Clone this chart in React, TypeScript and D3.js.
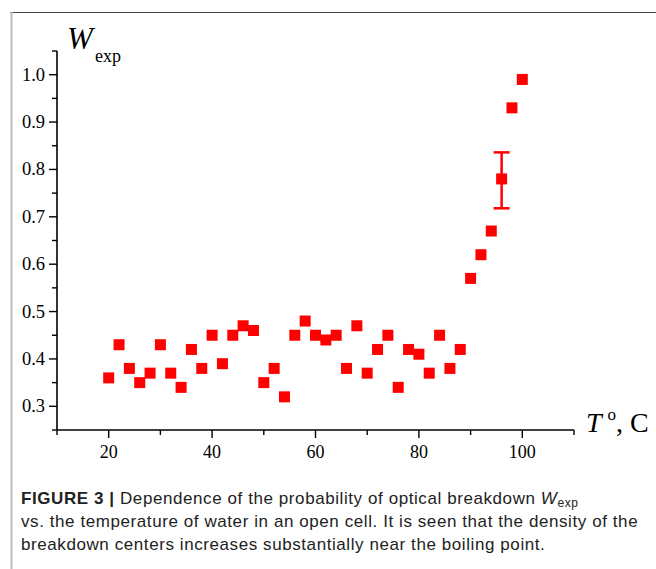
import React from "react";
import * as d3 from "d3";

const temps = [20,22,24,26,28,30,32,34,36,38,40,42,44,46,48,50,52,54,56,58,60,62,64,66,68,70,72,74,76,78,80,82,84,86,88,90,92,94,96,98,100];
const wexp = [0.36,0.43,0.38,0.35,0.37,0.43,0.37,0.34,0.42,0.38,0.45,0.39,0.45,0.47,0.46,0.35,0.38,0.32,0.45,0.48,0.45,0.44,0.45,0.38,0.47,0.37,0.42,0.45,0.34,0.42,0.41,0.37,0.45,0.38,0.42,0.57,0.62,0.67,0.78,0.93,0.99];
const errT = [96];
const errLow = [0.718];
const errHigh = [0.836];
const xTicks = [20,40,60,80,100];
const xMinor = [10,30,50,70,90,110];
const yTicks = [0.3,0.4,0.5,0.6,0.7,0.8,0.9,1.0];
const yMinor = [0.25,0.35,0.45,0.55,0.65,0.75,0.85,0.95,1.05];

const W = 656, H = 569;
const x = d3.scaleLinear().domain([10, 110]).range([57, 574]);
const y = d3.scaleLinear().domain([0.25, 1.05]).range([430, 51]);
const serif = "'Liberation Serif', 'Times New Roman', serif";
const sans = "'Liberation Sans', Arial, sans-serif";
const red = "#ff0000";
const S = 11;

export default function App() {
  return (
    <svg width={W} height={H} style={{ position: "absolute", left: 0, top: 0, background: "#fff" }}>
      <rect x={0} y={0} width={W} height={H} fill="#fff" />
      {/* frame */}
      <line x1={10} x2={W} y1={12.5} y2={12.5} stroke="#444" strokeWidth={1.2} />
      <line x1={11.5} x2={11.5} y1={12} y2={H} stroke="#bbb" strokeWidth={2} />

      {/* axes */}
      <line x1={x(10)} x2={x(110)} y1={y(0.25)} y2={y(0.25)} stroke="#000" strokeWidth={1.6} />
      <line x1={x(10)} x2={x(10)} y1={y(0.25)} y2={y(1.05)} stroke="#000" strokeWidth={1.6} />
      {xTicks.map((t) => (
        <g key={"xt" + t}>
          <line x1={x(t)} x2={x(t)} y1={y(0.25)} y2={y(0.25) + 8} stroke="#000" strokeWidth={1.4} />
          <text x={x(t)} y={y(0.25) + 28} textAnchor="middle" fontFamily={serif} fontSize={18}>{t}</text>
        </g>
      ))}
      {xMinor.map((t) => (
        <line key={"xm" + t} x1={x(t)} x2={x(t)} y1={y(0.25)} y2={y(0.25) + 5} stroke="#000" strokeWidth={1.4} />
      ))}
      {yTicks.map((t) => (
        <g key={"yt" + t}>
          <line x1={x(10) - 8} x2={x(10)} y1={y(t)} y2={y(t)} stroke="#000" strokeWidth={1.4} />
          <text x={x(10) - 12} y={y(t) + 6} textAnchor="end" fontFamily={serif} fontSize={18.5}>{t.toFixed(1)}</text>
        </g>
      ))}
      {yMinor.map((t) => (
        <line key={"ym" + t} x1={x(10) - 5} x2={x(10)} y1={y(t)} y2={y(t)} stroke="#000" strokeWidth={1.4} />
      ))}

      {/* axis titles */}
      <text x={67} y={49} fontFamily={serif} fontSize={31} fontStyle="italic">W</text>
      <text x={95} y={62} fontFamily={serif} fontSize={18}>exp</text>
      <text x={586} y={432} fontFamily={serif} fontSize={28}>
        <tspan fontStyle="italic">T</tspan>
        <tspan dx={6} dy={-12} fontSize={17}>o</tspan>
        <tspan dy={12}>, C</tspan>
      </text>

      {/* error bar */}
      {errT.map((t, i) => (
        <g key={"e" + t} stroke={red} strokeWidth={2.5}>
          <line x1={x(t)} x2={x(t)} y1={y(errLow[i])} y2={y(errHigh[i])} />
          <line x1={x(t) - 8} x2={x(t) + 8} y1={y(errLow[i])} y2={y(errLow[i])} />
          <line x1={x(t) - 8} x2={x(t) + 8} y1={y(errHigh[i])} y2={y(errHigh[i])} />
        </g>
      ))}

      {/* points */}
      {temps.map((t, i) => (
        <rect key={"p" + t} x={x(t) - S / 2} y={y(wexp[i]) - S / 2} width={S} height={S} fill={red} />
      ))}

      {/* caption */}
      <text x={21} y={504} fontFamily={sans} fontSize={17} fill="#222" letterSpacing={0.58}>
        <tspan fontWeight="bold">FIGURE 3 |</tspan>
        <tspan> Dependence of the probability of optical breakdown </tspan>
        <tspan fontStyle="italic">W</tspan>
        <tspan fontSize={12} dy={3}>exp</tspan>
      </text>
      <text x={21} y={527} fontFamily={sans} fontSize={17} fill="#222" letterSpacing={0.58}>
        vs. the temperature of water in an open cell. It is seen that the density of the
      </text>
      <text x={21} y={550} fontFamily={sans} fontSize={17} fill="#222" letterSpacing={0.58}>
        breakdown centers increases substantially near the boiling point.
      </text>
    </svg>
  );
}
